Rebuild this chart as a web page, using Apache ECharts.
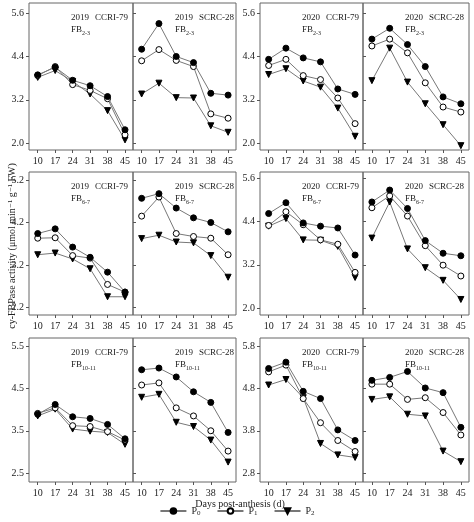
<!DOCTYPE html>
<html><head><meta charset="utf-8">
<script src="https://cdn.jsdelivr.net/npm/echarts@6/dist/echarts.min.js"></script>
<style>html,body{margin:0;padding:0;background:#fff}#c{width:474px;height:522px}</style>
</head><body><div id="c"></div>
<script>
const days = [10, 17, 24, 31, 38, 45];
const seriesNames = ['P0', 'P1', 'P2'];
// Row 1: FB2-3
const a19C_P0 = [3.89, 4.10, 3.74, 3.59, 3.29, 2.37];
const a19C_P1 = [3.87, 4.12, 3.62, 3.46, 3.23, 2.23];
const a19C_P2 = [3.82, 4.01, 3.71, 3.36, 2.90, 2.09];
const a19S_P0 = [4.60, 5.31, 4.40, 4.23, 3.38, 3.33];
const a19S_P1 = [4.28, 4.59, 4.29, 4.12, 2.81, 2.69];
const a19S_P2 = [3.36, 3.66, 3.26, 3.25, 2.48, 2.30];
const a20C_P0 = [4.32, 4.63, 4.36, 4.25, 3.50, 3.35];
const a20C_P1 = [4.15, 4.32, 3.87, 3.76, 3.25, 2.54];
const a20C_P2 = [3.90, 4.06, 3.72, 3.55, 2.97, 2.19];
const a20S_P0 = [4.88, 5.18, 4.73, 4.12, 3.28, 3.09];
const a20S_P1 = [4.69, 4.88, 4.50, 3.67, 3.00, 2.86];
const a20S_P2 = [3.73, 4.63, 3.69, 3.09, 2.51, 1.93];
// Row 2: FB6-7
const b19C_P0 = [3.94, 4.05, 3.62, 3.38, 3.03, 2.56];
const b19C_P1 = [3.83, 3.84, 3.42, 3.36, 2.74, 2.56];
const b19C_P2 = [3.44, 3.48, 3.34, 3.11, 2.45, 2.45];
const b19S_P0 = [4.77, 4.88, 4.54, 4.31, 4.20, 3.98];
const b19S_P1 = [4.35, 4.80, 3.94, 3.87, 3.83, 3.44];
const b19S_P2 = [3.82, 3.90, 3.74, 3.72, 3.42, 2.91];
const b20C_P0 = [4.62, 4.92, 4.36, 4.27, 4.22, 3.47];
const b20C_P1 = [4.29, 4.67, 4.31, 3.89, 3.77, 2.99];
const b20C_P2 = [4.27, 4.48, 3.89, 3.88, 3.71, 2.85];
const b20S_P0 = [4.94, 5.27, 4.76, 3.87, 3.52, 3.45];
const b20S_P1 = [4.78, 5.11, 4.55, 3.73, 3.19, 2.89];
const b20S_P2 = [3.94, 4.94, 3.64, 3.12, 2.77, 2.24];
// Row 3: FB10-11
const c19C_P0 = [3.89, 4.12, 3.83, 3.79, 3.65, 3.31];
const c19C_P1 = [3.91, 4.04, 3.62, 3.60, 3.48, 3.28];
const c19C_P2 = [3.85, 4.01, 3.54, 3.49, 3.46, 3.18];
const c19S_P0 = [4.94, 4.98, 4.77, 4.42, 4.17, 3.46];
const c19S_P1 = [4.58, 4.63, 4.04, 3.85, 3.50, 3.02];
const c19S_P2 = [4.29, 4.36, 3.70, 3.60, 3.28, 2.76];
const c20C_P0 = [5.27, 5.42, 4.73, 4.56, 3.82, 3.57];
const c20C_P1 = [5.19, 5.35, 4.56, 3.99, 3.57, 3.31];
const c20C_P2 = [4.88, 5.01, 4.58, 3.50, 3.23, 3.17];
const c20S_P0 = [4.99, 5.06, 5.20, 4.81, 4.70, 3.88];
const c20S_P1 = [4.90, 4.90, 4.54, 4.58, 4.23, 3.70];
const c20S_P2 = [4.54, 4.60, 4.19, 4.15, 3.32, 3.07];
const yTicks1 = [2.0, 3.2, 4.4, 5.6];
const yTicks2L = [2.2, 3.2, 4.2, 5.2];
const yTicks2R = [2.0, 3.2, 4.4, 5.6];
const yTicks3L = [2.5, 3.5, 4.5, 5.5];
const yTicks3R = [2.8, 3.8, 4.8, 5.8];

const colsX = [[29,133],[133,236],[260,363],[363,469]];
const rowsY = [[3,150],[172,315],[338,482]];
const panels = [
 {r:0,c:0,yr:'2019',cv:'CCRI-79',fb:'2-3',d:[a19C_P0,a19C_P1,a19C_P2],min:1.81,max:5.88,t:yTicks1},
 {r:0,c:1,yr:'2019',cv:'SCRC-28',fb:'2-3',d:[a19S_P0,a19S_P1,a19S_P2],min:1.81,max:5.88,t:yTicks1},
 {r:0,c:2,yr:'2020',cv:'CCRI-79',fb:'2-3',d:[a20C_P0,a20C_P1,a20C_P2],min:1.81,max:5.88,t:yTicks1},
 {r:0,c:3,yr:'2020',cv:'SCRC-28',fb:'2-3',d:[a20S_P0,a20S_P1,a20S_P2],min:1.81,max:5.88,t:yTicks1},
 {r:1,c:0,yr:'2019',cv:'CCRI-79',fb:'6-7',d:[b19C_P0,b19C_P1,b19C_P2],min:2.02,max:5.39,t:yTicks2L},
 {r:1,c:1,yr:'2019',cv:'SCRC-28',fb:'6-7',d:[b19S_P0,b19S_P1,b19S_P2],min:2.02,max:5.39,t:yTicks2L},
 {r:1,c:2,yr:'2020',cv:'CCRI-79',fb:'6-7',d:[b20C_P0,b20C_P1,b20C_P2],min:1.81,max:5.77,t:yTicks2R},
 {r:1,c:3,yr:'2020',cv:'SCRC-28',fb:'6-7',d:[b20S_P0,b20S_P1,b20S_P2],min:1.81,max:5.77,t:yTicks2R},
 {r:2,c:0,yr:'2019',cv:'CCRI-79',fb:'10-11',d:[c19C_P0,c19C_P1,c19C_P2],min:2.29,max:5.69,t:yTicks3L},
 {r:2,c:1,yr:'2019',cv:'SCRC-28',fb:'10-11',d:[c19S_P0,c19S_P1,c19S_P2],min:2.29,max:5.69,t:yTicks3L},
 {r:2,c:2,yr:'2020',cv:'CCRI-79',fb:'10-11',d:[c20C_P0,c20C_P1,c20C_P2],min:2.59,max:5.99,t:yTicks3R},
 {r:2,c:3,yr:'2020',cv:'SCRC-28',fb:'10-11',d:[c20S_P0,c20S_P1,c20S_P2],min:2.59,max:5.99,t:yTicks3R}
];
const F = 'Liberation Serif, DejaVu Serif, serif';
const grid=[], xAxis=[], yAxis=[], series=[], graphic=[];
panels.forEach((p,i)=>{
  const [x0,x1]=colsX[p.c], [y0,y1]=rowsY[p.r];
  grid.push({left:x0,top:y0,width:x1-x0,height:y1-y0,show:true,borderColor:'#666',borderWidth:1,backgroundColor:'transparent'});
  xAxis.push({type:'value',gridIndex:i,min:6.5,max:48.2,axisLine:{show:false},splitLine:{show:false},
    axisTick:{show:true,inside:false,length:3,lineStyle:{color:'#555'},customValues:days},
    axisLabel:{fontFamily:F,fontSize:10,color:'#222',margin:6,customValues:days}});
  const lbl = (p.c===0||p.c===2);
  yAxis.push({type:'value',gridIndex:i,min:p.min,max:p.max,axisLine:{show:false},splitLine:{show:false},
    axisTick:{show:true,inside:!lbl,length:3,lineStyle:{color:'#555'},customValues:p.t},
    axisLabel:{show:lbl,fontFamily:F,fontSize:10,color:'#222',margin:5,customValues:p.t,formatter:v=>v.toFixed(1)}});
  p.d.forEach((arr,k)=>{
    series.push({name:seriesNames[k],type:'line',xAxisIndex:i,yAxisIndex:i,
      data:days.map((d,j)=>[d,arr[j]]),
      symbol: k===2?'triangle':'circle', symbolSize:k===2?6:6, symbolRotate:k===2?180:0,
      lineStyle:{color:'#777',width:1},
      itemStyle:{color:k===1?'#fff':'#000',borderColor:'#000',borderWidth:1},
      emphasis:{disabled:true},z:5-k});
  });
  graphic.push({type:'text',left:x0+42,top:y0+9,style:{
    text:'{a|'+p.yr+'}  {a|'+p.cv+'}\n{a|FB}{s|'+p.fb+'}',fontFamily:F,
    rich:{a:{fontSize:9,fontFamily:F,fill:'#222',lineHeight:12},s:{fontSize:6,fontFamily:F,fill:'#222',verticalAlign:'bottom',padding:[5,0,0,0]}}}});
});
graphic.push({type:'text',x:12,y:246,rotation:Math.PI/2,style:{text:'cy-FBPase activity (μmol min⁻¹ g⁻¹ FW)',fontFamily:F,fontSize:10,fill:'#222',align:'center',verticalAlign:'middle'}});
graphic.push({type:'text',x:240,y:504,style:{text:'Days post-anthesis (d)',fontFamily:F,fontSize:10,fill:'#222',align:'center',verticalAlign:'middle'}});
const opt = {animation:false,grid,xAxis,yAxis,series,graphic,
  legend:{bottom:0,left:'center',itemWidth:26,itemHeight:7,itemGap:16,selectedMode:false,
    data:seriesNames,
    formatter:n=>'{a|P}{s|'+n.slice(1)+'}',
    textStyle:{fontFamily:F,rich:{a:{fontSize:10,fontFamily:F,color:'#222'},s:{fontSize:7,fontFamily:F,color:'#222',padding:[5,0,0,0]}}}}};
echarts.init(document.getElementById('c')).setOption(opt);
</script></body></html>
